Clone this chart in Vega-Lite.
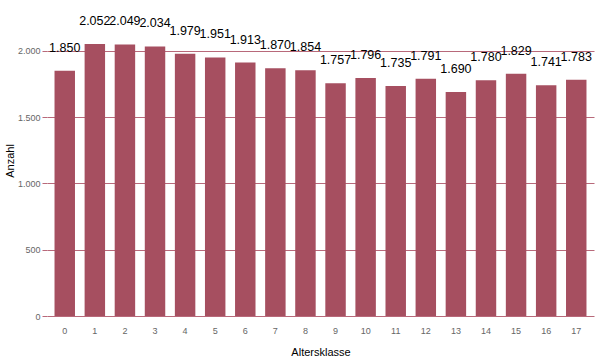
{
  "$schema": "https://vega.github.io/schema/vega-lite/v6.json",
  "autosize": {"type": "none"},
  "padding": {"left": 47, "top": 5, "right": 6, "bottom": 47},
  "width": 547,
  "height": 311,
  "background": "white",
  "config": {
    "locale": {"number": {"decimal": ",", "thousands": ".", "grouping": [3], "currency": ["", " €"]}},
    "view": {"stroke": null},
    "font": "Liberation Sans"
  },
  "data": {"values": [
    {"klasse": "0", "anzahl": 1850},
    {"klasse": "1", "anzahl": 2052},
    {"klasse": "2", "anzahl": 2049},
    {"klasse": "3", "anzahl": 2034},
    {"klasse": "4", "anzahl": 1979},
    {"klasse": "5", "anzahl": 1951},
    {"klasse": "6", "anzahl": 1913},
    {"klasse": "7", "anzahl": 1870},
    {"klasse": "8", "anzahl": 1854},
    {"klasse": "9", "anzahl": 1757},
    {"klasse": "10", "anzahl": 1796},
    {"klasse": "11", "anzahl": 1735},
    {"klasse": "12", "anzahl": 1791},
    {"klasse": "13", "anzahl": 1690},
    {"klasse": "14", "anzahl": 1780},
    {"klasse": "15", "anzahl": 1829},
    {"klasse": "16", "anzahl": 1741},
    {"klasse": "17", "anzahl": 1783}
  ]},
  "encoding": {
    "x": {
      "field": "klasse", "type": "nominal", "sort": null,
      "scale": {"paddingInner": 0.32, "paddingOuter": 0.25},
      "axis": {
        "title": "Altersklasse", "labelAngle": 0, "ticks": false, "domain": false,
        "labelPadding": 10, "labelFontSize": 9, "labelColor": "#666666",
        "titleFontSize": 11, "titleFontWeight": "normal", "titleColor": "#000000", "titlePadding": 11
      }
    },
    "y": {
      "field": "anzahl", "type": "quantitative",
      "scale": {"domain": [0, 2347], "nice": false},
      "axis": {
        "title": "Anzahl", "values": [0, 500, 1000, 1500, 2000], "format": ",d",
        "domain": false, "tickColor": "#b8697a", "tickSize": 5,
        "gridColor": "#b8697a", "gridWidth": 1, "gridOpacity": 1,
        "labelFontSize": 9, "labelColor": "#666666", "labelPadding": 2,
        "titleFontSize": 11, "titleFontWeight": "normal", "titleColor": "#000000", "titlePadding": 2
      }
    }
  },
  "layer": [
    {"mark": {"type": "bar", "color": "#a64f60"}},
    {"mark": {"type": "text", "baseline": "alphabetic", "dy": -19, "fontSize": 12.5, "color": "#000000"},
     "encoding": {"text": {"field": "anzahl", "type": "quantitative", "format": ",d"}}}
  ]
}
